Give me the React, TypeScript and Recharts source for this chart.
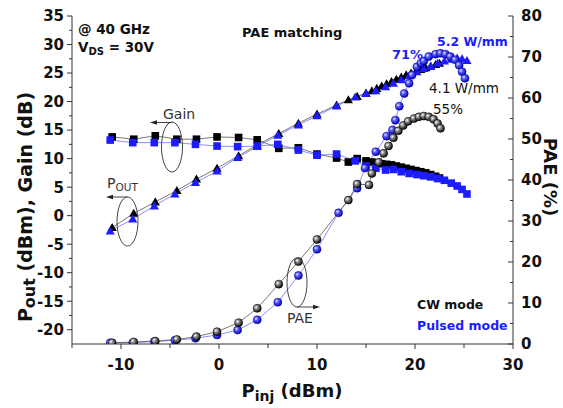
import React from 'react';
import { ComposedChart, Line, XAxis, YAxis } from 'recharts';

// ---- data ----
const pinCW = [-10.9,-8.7,-6.5,-4.3,-2.3,-0.2,2.0,3.9,6.1,8.1,10.0,12.0,13.2,14.1,15.0,15.6,16.1,16.6,17.1,17.6,18.1,18.6,19.1,19.6,20.1,20.6,21.1,21.6,22.1,22.5];
const gainCW = [13.8,13.4,14.0,13.4,13.4,13.8,13.7,13.3,11.8,11.9,10.8,10.1,9.4,10.0,9.6,9.4,9.2,9.1,9.0,8.9,8.7,8.5,8.3,8.1,7.9,7.7,7.5,7.2,6.9,6.6];
const poutCW = [-2.1,0.4,2.4,4.4,6.4,8.3,10.5,12.4,14.4,16.2,17.8,19.4,20.3,20.9,21.5,21.9,22.3,22.7,23.1,23.5,23.9,24.3,24.7,25.0,25.3,25.6,25.9,26.2,26.5,26.7];

const pinP = [-11.1,-8.8,-6.6,-4.5,-2.4,-0.2,1.9,3.9,6.0,8.1,10.0,12.0,13.9,15.0,16.0,17.0,17.8,18.6,19.4,20.2,20.9,21.6,22.3,23.0,23.7,24.3,24.8,25.3];
const gainP = [13.25,12.8,12.8,12.8,12.5,12.2,12.1,12.2,12.5,11.5,10.6,10.8,9.6,8.7,8.3,8.0,8.1,7.7,7.4,7.2,7.0,6.8,6.5,6.2,5.7,5.2,4.6,3.8];
const poutP = [-2.7,-0.6,1.7,3.8,5.8,7.8,10.2,12.1,14.1,15.9,17.5,19.2,20.8,21.4,21.9,22.6,23.2,23.8,24.5,25.2,25.8,26.2,26.7,27.1,27.4,27.6,27.5,27.2];

const pinPaeP = [-11.1,-8.8,-6.6,-4.5,-2.4,-0.2,1.9,3.9,6.0,8.1,10.0,12.2,14.1,14.9,16.0,17.1,17.7,18.0,18.4,18.9,19.4,19.7,20.2,20.6,20.9,21.4,22.1,22.6,23.1,23.6,24.1,24.5,24.8,25.1];
const paeP = [0.3,0.3,0.6,0.9,1.4,2.2,3.4,5.9,10.2,16.7,23.1,32.0,38.0,42.9,46.9,50.7,52.2,54.6,58.0,61.1,63.6,65.6,67.6,68.5,69.0,70.1,70.7,70.9,70.7,70.1,69.3,68.0,66.4,64.8];

const pinPaeCW = [-10.9,-8.7,-6.5,-4.3,-2.3,-0.2,2.0,3.9,6.1,8.1,10.0,13.2,14.1,15.3,15.6,16.3,16.8,17.3,17.8,18.3,18.8,19.3,19.9,20.4,20.9,21.4,21.9,22.3,22.6];
const paeCW = [0.3,0.5,0.7,1.1,1.8,3.0,5.2,8.7,14.6,20.1,25.5,35.1,39.0,38.8,41.6,44.3,46.5,48.3,50.3,52.0,53.3,54.3,55.0,55.4,55.6,55.4,54.8,53.8,52.6];

const xTicks = [-15,-10,-5,0,5,10,15,20,25,30];
const leftTicks = [-20,-17.5,-15,-12.5,-10,-7.5,-5,-2.5,0,2.5,5,7.5,10,12.5,15,17.5,20,22.5,25,27.5,30,32.5,35];
const rightTicks = [0,5,10,15,20,25,30,35,40,45,50,55,60,65,70,75,80];

const zip = (xs: number[], ys: number[]) => xs.map((x, i) => ({ x, y: ys[i] }));

const dGainCW = zip(pinCW, gainCW);
const dPoutCW = zip(pinCW, poutCW);
const dGainP = zip(pinP, gainP);
const dPoutP = zip(pinP, poutP);
const dPaeP = zip(pinPaeP, paeP);
const dPaeCW = zip(pinPaeCW, paeCW);

// ---- styles ----
const BLUE = '#1c1cff';
const AX = '#333';
const FONT = '"DejaVu Sans", Arial, sans-serif';
const tickFont: React.CSSProperties = { fontFamily: FONT, fontWeight: 'bold', fontSize: 15, fill: '#111' };

const isMult = (v: number, m: number) => Math.abs(v / m - Math.round(v / m)) < 1e-6;

const LeftTick = (p: any) => {
  const v = p.payload.value;
  const major = isMult(v, 5);
  return (
    <g>
      <line x1={p.x - (major ? 5 : 3)} x2={p.x} y1={p.y} y2={p.y} stroke={AX} />
      {major && <text x={p.x - 8} y={p.y} dy="0.36em" textAnchor="end" style={tickFont}>{v}</text>}
    </g>
  );
};
const RightTick = (p: any) => {
  const v = p.payload.value;
  const major = isMult(v, 10);
  return (
    <g>
      <line x1={p.x - (major ? 5 : 3)} x2={p.x} y1={p.y} y2={p.y} stroke={AX} />
      {major && <text x={p.x + 8} y={p.y} dy="0.36em" textAnchor="start" style={tickFont}>{v}</text>}
    </g>
  );
};
const BottomTick = (p: any) => {
  const v = p.payload.value;
  const major = isMult(v, 10);
  return (
    <g>
      <line x1={p.x} x2={p.x} y1={p.y} y2={p.y + (major ? 5 : 4)} stroke={AX} />
      {major && <text x={p.x} y={p.y + 26} textAnchor="middle" style={tickFont}>{v}</text>}
    </g>
  );
};
const TopTick = (p: any) => {
  const v = p.payload.value;
  const major = isMult(v, 10);
  return <line x1={p.x} x2={p.x} y1={p.y} y2={p.y + (major ? 5 : 4)} stroke={AX} />;
};

const Square = (color: string) => (p: any) => {
  if (p.cx == null || p.cy == null) return <g key={p.index} />;
  return <rect key={p.index} x={p.cx - 3.8} y={p.cy - 3.8} width={7.6} height={7.6} fill={color} />;
};
const Tri = (color: string) => (p: any) => {
  if (p.cx == null || p.cy == null) return <g key={p.index} />;
  const s = 4.6;
  return <polygon key={p.index} points={`${p.cx},${p.cy - s} ${p.cx - s},${p.cy + s * 0.75} ${p.cx + s},${p.cy + s * 0.75}`} fill={color} />;
};
const Sphere = (grad: string, edge: string) => (p: any) => {
  if (p.cx == null || p.cy == null) return <g key={p.index} />;
  return <circle key={p.index} cx={p.cx} cy={p.cy} r={4} fill={`url(#${grad})`} stroke={edge} strokeWidth={0.6} />;
};

const annBold: React.CSSProperties = { fontFamily: FONT, fontWeight: 'bold' };
const annReg: React.CSSProperties = { fontFamily: FONT, fontWeight: 'normal' };

export default function App() {
  return (
    <div style={{ position: 'absolute', left: 0, top: 0, width: 563, height: 408, background: '#fff' }}>
      <svg width={0} height={0} style={{ position: 'absolute' }}>
        <defs>
          <radialGradient id="gBlack" cx="35%" cy="35%" r="70%">
            <stop offset="0%" stopColor="#ffffff" />
            <stop offset="35%" stopColor="#8a8a8a" />
            <stop offset="100%" stopColor="#000000" />
          </radialGradient>
          <radialGradient id="gBlue" cx="35%" cy="35%" r="70%">
            <stop offset="0%" stopColor="#e8e8ff" />
            <stop offset="35%" stopColor="#5a5aff" />
            <stop offset="100%" stopColor="#0000b0" />
          </radialGradient>
        </defs>
      </svg>
      <ComposedChart width={563} height={408} margin={{ top: 16, right: 0, bottom: 0, left: 0 }}>
        <XAxis
          type="number" dataKey="x" domain={[-15, 30]} ticks={xTicks} interval={0}
          allowDataOverflow height={64} tickSize={0} tickMargin={0} tickLine={false}
          axisLine={{ stroke: AX }} tick={BottomTick}
        />
        <XAxis
          xAxisId="top" orientation="top" type="number" dataKey="x" domain={[-15, 30]} ticks={xTicks}
          interval={0} allowDataOverflow height={0} tickSize={0} tickMargin={0} tickLine={false}
          axisLine={{ stroke: AX }} tick={TopTick}
        />
        <YAxis
          yAxisId="left" type="number" domain={[-22.5, 35]} ticks={leftTicks} interval={0}
          allowDataOverflow width={72} tickSize={0} tickMargin={0} tickLine={false}
          axisLine={{ stroke: AX }} tick={LeftTick}
        />
        <YAxis
          yAxisId="right" orientation="right" type="number" domain={[0, 80]} ticks={rightTicks}
          interval={0} allowDataOverflow width={50} tickSize={0} tickMargin={0} tickLine={false}
          axisLine={{ stroke: AX }} tick={RightTick}
        />
        <Line data={dGainCW} dataKey="y" yAxisId="left" type="linear" stroke="#555" strokeWidth={0.8}
          dot={Square('#000')} activeDot={false} isAnimationActive={false} />
        <Line data={dPoutCW} dataKey="y" yAxisId="left" type="linear" stroke="#555" strokeWidth={0.8}
          dot={Tri('#000')} activeDot={false} isAnimationActive={false} />
        <Line data={dGainP} dataKey="y" yAxisId="left" type="linear" stroke="#7070ff" strokeWidth={0.8}
          dot={Square(BLUE)} activeDot={false} isAnimationActive={false} />
        <Line data={dPoutP} dataKey="y" yAxisId="left" type="linear" stroke="#7070ff" strokeWidth={0.8}
          dot={Tri(BLUE)} activeDot={false} isAnimationActive={false} />
        <Line data={dPaeP} dataKey="y" yAxisId="right" type="linear" stroke="#7070ff" strokeWidth={0.8}
          dot={Sphere('gBlue', '#0000a0')} activeDot={false} isAnimationActive={false} />
        <Line data={dPaeCW} dataKey="y" yAxisId="right" type="linear" stroke="#555" strokeWidth={0.8}
          dot={Sphere('gBlack', '#000')} activeDot={false} isAnimationActive={false} />
      </ComposedChart>
      <svg width={563} height={408} style={{ position: 'absolute', left: 0, top: 0, pointerEvents: 'none' }}>
        {/* axis titles */}
        <text transform="translate(32,207) rotate(-90)" textAnchor="middle" style={{ ...annBold, fontSize: 19 }} fill="#111">
          P<tspan fontSize={16} dy={3}>out</tspan><tspan dy={-3}> (dBm), Gain (dB)</tspan>
        </text>
        <text transform="translate(544,177) rotate(90)" textAnchor="middle" style={{ ...annBold, fontSize: 18 }} fill="#111">
          PAE (%)
        </text>
        <text x={292} y={397} textAnchor="middle" style={{ ...annBold, fontSize: 18 }} fill="#111">
          P<tspan fontSize={14} dy={4}>inj</tspan><tspan dy={-4}> (dBm)</tspan>
        </text>
        {/* labels */}
        <text x={78} y={34} style={{ ...annBold, fontSize: 13.5 }} fill="#111">@ 40 GHz</text>
        <text x={78} y={52} style={{ ...annBold, fontSize: 13.5 }} fill="#111">
          V<tspan fontSize={10} dy={3}>DS</tspan><tspan dy={-3}> = 30V</tspan>
        </text>
        <text x={242} y={37} style={{ ...annBold, fontSize: 13 }} fill="#111">PAE matching</text>
        <text x={392} y={59} style={{ ...annBold, fontSize: 13 }} fill={BLUE}>71%</text>
        <text x={437} y={46} style={{ ...annBold, fontSize: 12.5 }} fill={BLUE}>5.2 W/mm</text>
        <text x={429} y={93} style={{ ...annReg, fontSize: 13.5 }} fill="#111">4.1 W/mm</text>
        <text x={433} y={114} style={{ ...annReg, fontSize: 13.5 }} fill="#111">55%</text>
        <text x={417} y={309} style={{ ...annBold, fontSize: 12.5 }} fill="#111">CW mode</text>
        <text x={417} y={330} style={{ ...annBold, fontSize: 12.5 }} fill={BLUE}>Pulsed mode</text>
        {/* Gain group */}
        <ellipse cx={172} cy={147} rx={10.5} ry={25} fill="none" stroke="#444" strokeWidth={1} />
        <line x1={172} y1={122.5} x2={155} y2={122.5} stroke="#444" strokeWidth={1} />
        <polygon points="150,122.5 157,120.3 157,124.7" fill="#222" />
        <text x={163} y={119} style={{ ...annReg, fontSize: 14 }} fill="#333">Gain</text>
        {/* Pout group */}
        <ellipse cx={127.5} cy={221.5} rx={10.5} ry={24.5} fill="none" stroke="#444" strokeWidth={1} />
        <line x1={127.5} y1={197} x2={111} y2={197} stroke="#444" strokeWidth={1} />
        <polygon points="106,197 113,194.8 113,199.2" fill="#222" />
        <text x={107} y={188} style={{ ...annReg, fontSize: 14 }} fill="#333">
          P<tspan fontSize={10.5} dy={3}>OUT</tspan>
        </text>
        {/* PAE group */}
        <ellipse cx={297} cy={282.5} rx={10} ry={24.5} fill="none" stroke="#444" strokeWidth={1} />
        <line x1={297} y1={307} x2={315} y2={307} stroke="#444" strokeWidth={1} />
        <polygon points="320,307 313,304.8 313,309.2" fill="#222" />
        <text x={287} y={323} style={{ ...annReg, fontSize: 14 }} fill="#333">PAE</text>
      </svg>
    </div>
  );
}
